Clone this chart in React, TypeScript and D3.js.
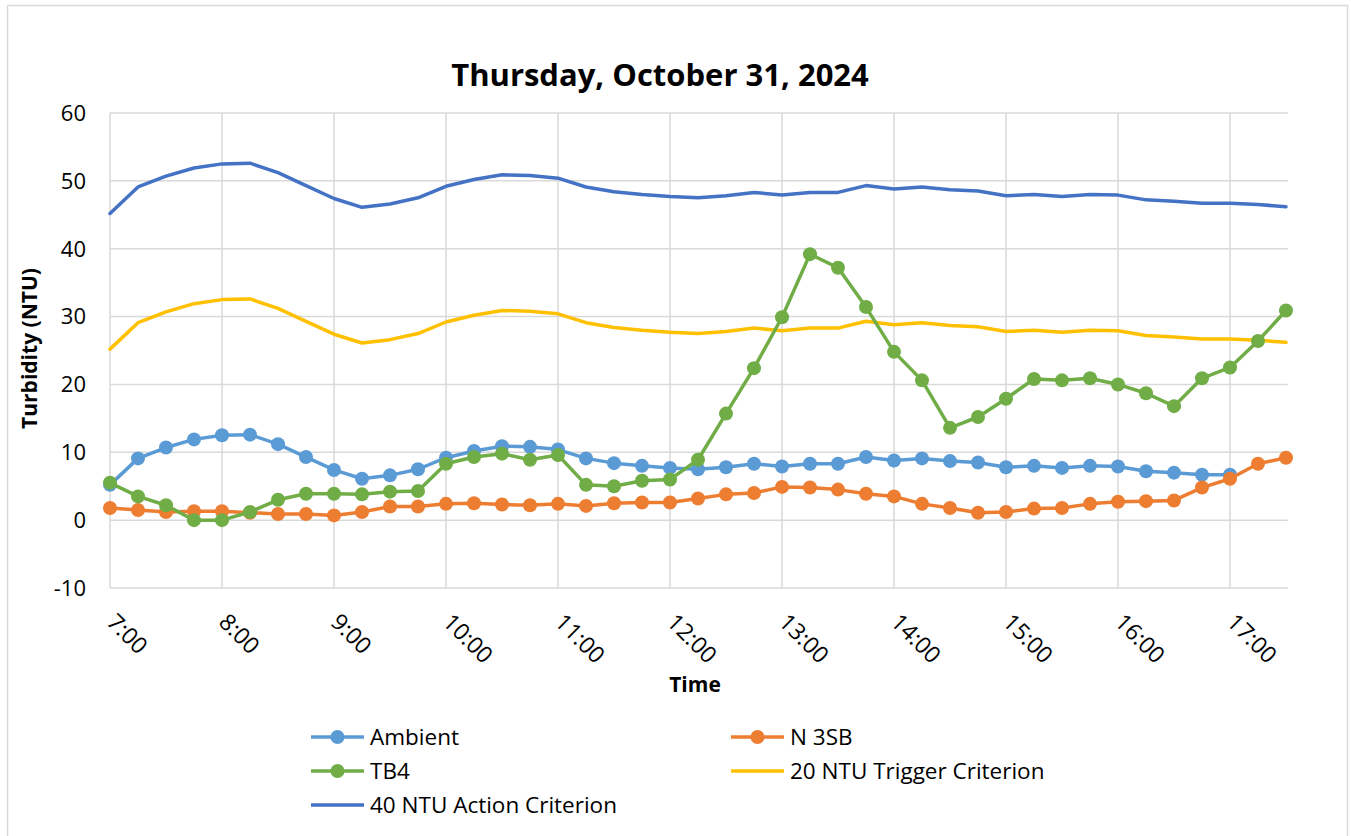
import * as d3 from "d3";

// 15-minute readings, 7:00 to 17:30
const times = d3.range(0, 43).map((i) => 420 + i * 15); // minutes after midnight

const ambient = [
  5.2, 9.1, 10.7, 11.9, 12.5, 12.6, 11.2, 9.3, 7.4, 6.1, 6.6, 7.5, 9.2, 10.2, 10.9, 10.8,
  10.4, 9.1, 8.4, 8.0, 7.7, 7.5, 7.8, 8.3, 7.9, 8.3, 8.3, 9.3, 8.8, 9.1, 8.7, 8.5,
  7.8, 8.0, 7.7, 8.0, 7.9, 7.2, 7.0, 6.7, 6.7,
];
const n3sb = [
  1.8, 1.5, 1.2, 1.3, 1.3, 1.1, 0.9, 0.9, 0.7, 1.2, 2.0, 2.0, 2.4, 2.5, 2.3, 2.2,
  2.4, 2.1, 2.5, 2.6, 2.6, 3.2, 3.8, 4.0, 4.9, 4.8, 4.5, 3.9, 3.5, 2.4, 1.8, 1.1,
  1.2, 1.7, 1.8, 2.4, 2.7, 2.8, 2.9, 4.8, 6.1, 8.3, 9.2,
];
const tb4 = [
  5.5, 3.5, 2.2, 0.0, 0.0, 1.2, 3.0, 3.9, 3.9, 3.8, 4.2, 4.3, 8.3, 9.3, 9.8, 8.9,
  9.6, 5.2, 5.0, 5.8, 6.0, 8.9, 15.7, 22.4, 29.9, 39.2, 37.2, 31.4, 24.8, 20.6, 13.6, 15.2,
  17.9, 20.8, 20.6, 20.9, 20.0, 18.7, 16.8, 20.9, 22.5, 26.4, 30.9,
];
const trigger = [
  25.2, 29.1, 30.7, 31.9, 32.5, 32.6, 31.2, 29.3, 27.4, 26.1, 26.6, 27.5, 29.2, 30.2, 30.9, 30.8,
  30.4, 29.1, 28.4, 28.0, 27.7, 27.5, 27.8, 28.3, 27.9, 28.3, 28.3, 29.3, 28.8, 29.1, 28.7, 28.5,
  27.8, 28.0, 27.7, 28.0, 27.9, 27.2, 27.0, 26.7, 26.7, 26.5, 26.2,
];
const action = [
  45.2, 49.1, 50.7, 51.9, 52.5, 52.6, 51.2, 49.3, 47.4, 46.1, 46.6, 47.5, 49.2, 50.2, 50.9, 50.8,
  50.4, 49.1, 48.4, 48.0, 47.7, 47.5, 47.8, 48.3, 47.9, 48.3, 48.3, 49.3, 48.8, 49.1, 48.7, 48.5,
  47.8, 48.0, 47.7, 48.0, 47.9, 47.2, 47.0, 46.7, 46.7, 46.5, 46.2,
];

const hourTicks = d3.range(7, 18); // 7:00 .. 17:00
const yTicks = [-10, 0, 10, 20, 30, 40, 50, 60];

const series = [
  { name: "Ambient", values: ambient, color: "#5B9BD5", markers: true },
  { name: "N 3SB", values: n3sb, color: "#ED7D31", markers: true },
  { name: "TB4", values: tb4, color: "#70AD47", markers: true },
  { name: "20 NTU Trigger Criterion", values: trigger, color: "#FFC000", markers: false },
  { name: "40 NTU Action Criterion", values: action, color: "#4472C4", markers: false },
];

const FONT = "'Open Sans', 'Liberation Sans', sans-serif";

export default function App() {
  const W = 1351, H = 836;
  const left = 110, right = 1288, top = 113, bottom = 588;

  const x = d3.scaleLinear().domain([420, 1050]).range([left, 1286]);
  const y = d3.scaleLinear().domain([-10, 60]).range([bottom, top]);

  const line = d3
    .line<number>()
    .x((_, i) => x(times[i]))
    .y((d) => y(d));

  // criteria lines under the measured series
  const drawOrder = [4, 3, 0, 1, 2];

  const legendCols = [311, 731];
  const legendRows = [737, 771, 805];

  return (
    <svg
      width={W}
      height={H}
      style={{ position: "absolute", left: 0, top: 0, background: "#fff" }}
      fontFamily={FONT}
    >
      <rect x={7.5} y={5.5} width={1340} height={840} fill="#fff" stroke="#d9d9d9" strokeWidth={1.5} />

      <text x={660} y={86} textAnchor="middle" fontSize={31} fontWeight={700} fill="#000">
        Thursday, October 31, 2024
      </text>

      {/* grid */}
      {yTicks.map((t) => (
        <line key={"gy" + t} x1={left} x2={right} y1={y(t)} y2={y(t)} stroke="#d9d9d9" strokeWidth={1.5} />
      ))}
      {hourTicks.map((h) => (
        <line key={"gx" + h} x1={x(h * 60)} x2={x(h * 60)} y1={top} y2={bottom} stroke="#d9d9d9" strokeWidth={1.5} />
      ))}

      {/* y tick labels */}
      {yTicks.map((t) => (
        <text key={"ty" + t} x={86} y={y(t)} dy="0.36em" textAnchor="end" fontSize={22} fill="#000">
          {t}
        </text>
      ))}

      {/* x tick labels */}
      {hourTicks.map((h) => (
        <text
          key={"tx" + h}
          transform={`translate(${x(h * 60) + 7},${612}) rotate(45)`}
          dy="0.7em"
          textAnchor="start"
          fontSize={23}
          fill="#000"
        >
          {`${h}:00`}
        </text>
      ))}

      <text x={695} y={692} textAnchor="middle" fontSize={21} fontWeight={700} fill="#000">
        Time
      </text>
      <text
        transform={`translate(37,${(top + bottom) / 2 - 2}) rotate(-90)`}
        textAnchor="middle"
        fontSize={21}
        fontWeight={700}
        fill="#000"
      >
        Turbidity (NTU)
      </text>

      {/* series */}
      {drawOrder.map((si) => {
        const s = series[si];
        return (
          <g key={s.name}>
            <path
              d={line(s.values) || ""}
              fill="none"
              stroke={s.color}
              strokeWidth={3.5}
              strokeLinejoin="round"
              strokeLinecap="round"
            />
            {s.markers &&
              s.values.map((v, i) => (
                <circle key={i} cx={x(times[i])} cy={y(v)} r={7} fill={s.color} />
              ))}
          </g>
        );
      })}

      {/* legend */}
      {series.map((s, i) => {
        const lx = legendCols[i % 2];
        const ly = legendRows[Math.floor(i / 2)];
        return (
          <g key={"lg" + s.name}>
            <line x1={lx} x2={lx + 53} y1={ly} y2={ly} stroke={s.color} strokeWidth={3.5} />
            {s.markers && <circle cx={lx + 26.5} cy={ly} r={7} fill={s.color} />}
            <text x={lx + 59} y={ly} dy="0.36em" fontSize={22.5} fill="#000">
              {s.name}
            </text>
          </g>
        );
      })}
    </svg>
  );
}
